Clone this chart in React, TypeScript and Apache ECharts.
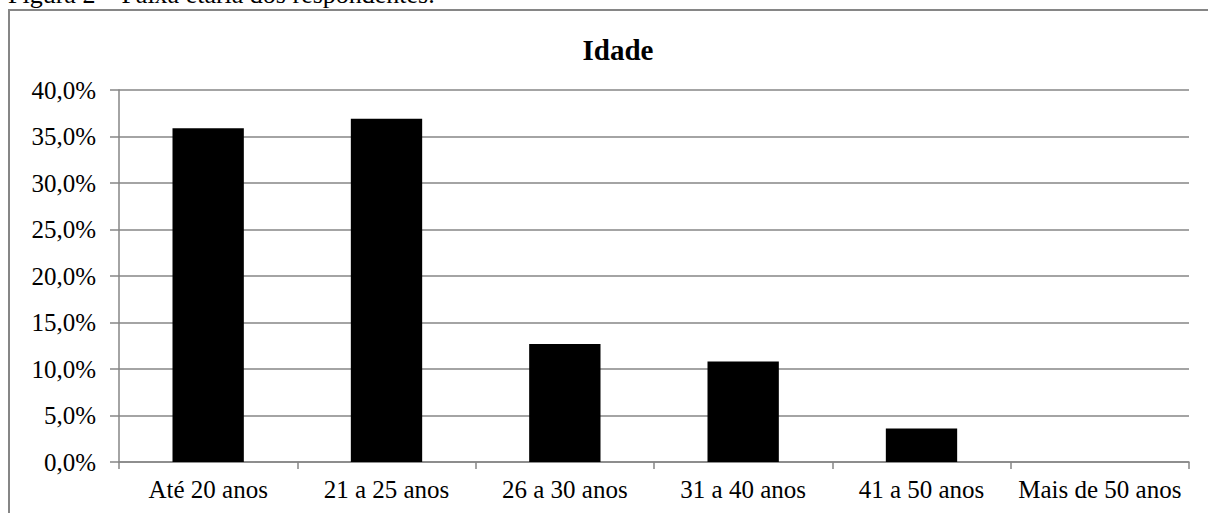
import React, { useEffect, useRef } from "react";
import * as echarts from "echarts";

const categories = ["Até 20 anos", "21 a 25 anos", "26 a 30 anos", "31 a 40 anos", "41 a 50 anos", "Mais de 50 anos"];
const values = [35.9, 36.9, 12.7, 10.8, 3.6, 0];
const chartTitle = "Idade";
const captionText = "Figura 2 – Faixa etária dos respondentes.";

const FONT = "'Liberation Serif', 'Times New Roman', serif";

export default function App() {
  const ref = useRef<HTMLDivElement>(null);
  useEffect(() => {
    if (!ref.current) return;
    const chart = echarts.init(ref.current, undefined, { renderer: "svg" });
    chart.setOption({
      animation: false,
      backgroundColor: "#ffffff",
      title: {
        text: chartTitle,
        left: 613,
        textAlign: "center",
        top: 30,
        textStyle: { fontFamily: FONT, fontWeight: "bold", fontSize: 29, color: "#000" },
      },
      graphic: [
        {
          type: "rect",
          shape: { x: 9, y: 10, width: 1400, height: 700 },
          style: { fill: "none", stroke: "#868686", lineWidth: 2 },
          silent: true,
        },
        {
          type: "text",
          x: 8,
          y: 7,
          style: {
            text: captionText,
            font: `26px ${FONT}`,
            fill: "#000",
            verticalAlign: "bottom",
            align: "left",
          },
          silent: true,
        },
      ],
      grid: { left: 119, right: 19, top: 90, bottom: 51, containLabel: false },
      xAxis: {
        type: "category",
        data: categories,
        boundaryGap: true,
        axisLine: { lineStyle: { color: "#868686", width: 1.5 } },
        axisTick: { show: true, length: 7, alignWithLabel: false, lineStyle: { color: "#868686", width: 1.5 } },
        axisLabel: { fontFamily: FONT, fontSize: 25, color: "#000", margin: 15, interval: 0 },
      },
      yAxis: {
        type: "value",
        min: 0,
        max: 40,
        interval: 5,
        axisLine: { show: true, lineStyle: { color: "#868686", width: 1.5 } },
        axisTick: { show: true, length: 9, lineStyle: { color: "#868686", width: 1.5 } },
        splitLine: { show: true, lineStyle: { color: "#868686", width: 1.5 } },
        axisLabel: {
          fontFamily: FONT,
          fontSize: 25,
          color: "#000",
          margin: 23,
          formatter: (v: number) => v.toFixed(1).replace(".", ",") + "%",
        },
      },
      series: [
        {
          type: "bar",
          data: values,
          barWidth: "40%",
          itemStyle: { color: "#000000", borderWidth: 0 },
        },
      ],
    });
    return () => chart.dispose();
  }, []);
  return (
    <div
      ref={ref}
      style={{ position: "absolute", left: 0, top: 0, width: 1208, height: 513 }}
    />
  );
}
